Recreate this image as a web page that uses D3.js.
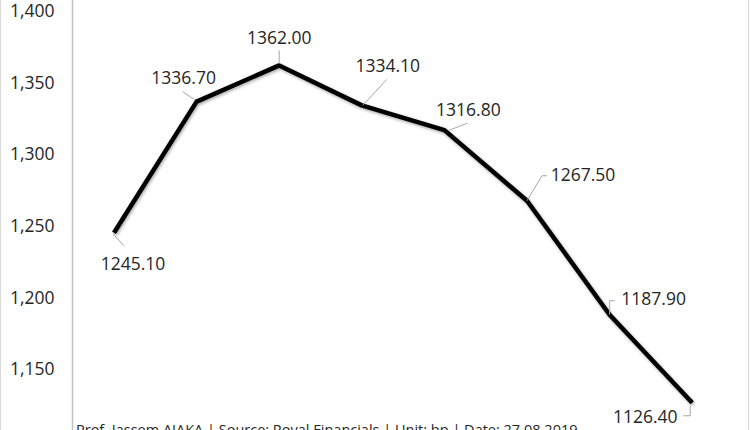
<!DOCTYPE html>
<html>
<head>
<meta charset="utf-8">
<script src="https://d3js.org/d3.v7.min.js"></script>
<style>
body { margin: 0; background: #fff; }
svg { display: block; font-family: 'Open Sans', sans-serif; }
.tick text { fill: #262626; }
</style>
</head>
<body>
<svg width="750" height="430"></svg>
<script>
// data
var periods = [1, 2, 3, 4, 5, 6, 7, 8];
var values = [1245.10, 1336.70, 1362.00, 1334.10, 1316.80, 1267.50, 1187.90, 1126.40];
var yTicks = [1150, 1200, 1250, 1300, 1350, 1400];
var footer = "Prof. Jassem AJAKA | Source: Royal Financials | Unit: bp | Date: 27.08.2019";

// label placement (text centre offset + leader line, relative to the point)
var labelPos = [
  { dx: 19, dy: 31, lead: [[-1, 1], [10, 13]] },
  { dx: -13, dy: -24, lead: [[-2, -2], [-14, -10]] },
  { dx: 0, dy: -28, lead: [[0, -2], [0, -15]] },
  { dx: 26, dy: -39, lead: [[1, 0], [25, -26]] },
  { dx: 24, dy: -20, lead: [[5, 0], [23, -7]] },
  { dx: 56, dy: -26, lead: [[0, 0], [15, -25], [20, -25]] },
  { dx: 44, dy: -16, lead: [[0, 0], [0, -14], [5, -14]] },
  { dx: -47, dy: 14, lead: [[-2, 3], [-2, 13], [-9, 13]] }
];

var svg = d3.select("svg");

// outer chart border (only the sides show)
svg.append("rect")
    .attr("x", 0.5).attr("y", -10)
    .attr("width", 748).attr("height", 460)
    .attr("fill", "none")
    .attr("stroke", "#d9d9d9");

var x = d3.scaleBand()
    .domain(periods)
    .range([72.7, 733.5]);

var y = d3.scaleLinear()
    .domain([1100, 1400])
    .range([440.6, 11]);

// y axis
var yAxis = svg.append("g")
    .attr("transform", "translate(72.5,0)")
    .call(d3.axisLeft(y).tickValues(yTicks).tickSize(0).tickPadding(18)
      .tickFormat(d3.format(",")));
yAxis.select(".domain")
    .attr("d", "M0,-10V450")
    .attr("stroke", "#bfbfbf").attr("stroke-width", 1.5);
yAxis.selectAll(".tick text")
    .attr("font-size", "17.5px")
    .attr("font-family", "'Open Sans', sans-serif");

// shadow for line
var defs = svg.append("defs");
var f = defs.append("filter").attr("id", "shadow")
    .attr("x", "-10%").attr("y", "-10%").attr("width", "120%").attr("height", "120%");
f.append("feDropShadow")
    .attr("dx", 1).attr("dy", 1.5).attr("stdDeviation", 1.5)
    .attr("flood-color", "#000").attr("flood-opacity", 0.35);

var px = function(d, i) { return x(periods[i]) + x.bandwidth() / 2; };
var py = function(d) { return y(d); };

var line = d3.line().x(px).y(py);

svg.append("path")
    .datum(values)
    .attr("d", line)
    .attr("fill", "none")
    .attr("stroke", "#000")
    .attr("stroke-width", 4.5)
    .attr("stroke-linejoin", "round")
    .attr("filter", "url(#shadow)");

// data labels with leader lines
var lbl = svg.append("g").selectAll("g")
    .data(values)
    .enter().append("g")
    .attr("transform", function(d, i) { return "translate(" + px(d, i) + "," + py(d) + ")"; });

lbl.append("path")
    .attr("d", function(d, i) { return d3.line()(labelPos[i].lead); })
    .attr("fill", "none")
    .attr("stroke", "#a6a6a6")
    .attr("stroke-width", 1);

lbl.append("text")
    .attr("x", function(d, i) { return labelPos[i].dx; })
    .attr("y", function(d, i) { return labelPos[i].dy; })
    .attr("dy", "0.35em")
    .attr("text-anchor", "middle")
    .attr("font-size", "17.5px")
    .attr("fill", "#262626")
    .text(function(d) { return d.toFixed(2); });

// footer
svg.append("text")
    .attr("x", 76)
    .attr("y", 435)
    .attr("font-size", "14.5px")
    .attr("fill", "#262626")
    .text(footer);
</script>
</body>
</html>
